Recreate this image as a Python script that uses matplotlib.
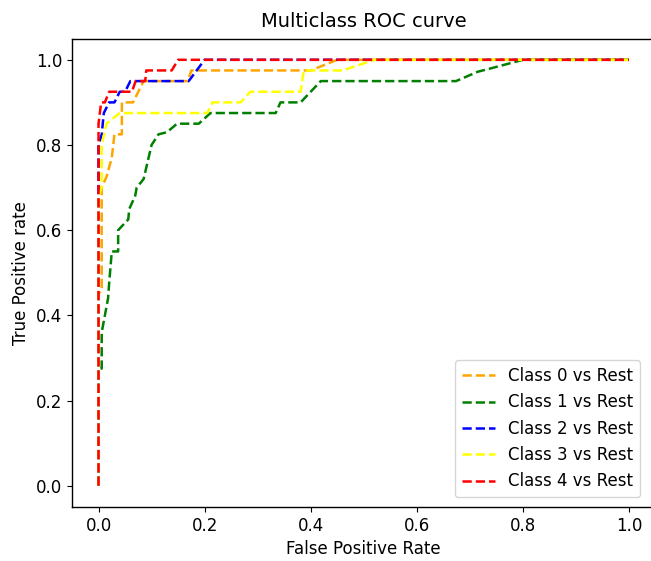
import matplotlib
matplotlib.use("Agg")
import matplotlib.pyplot as plt

# ROC curves (fpr, tpr)
fpr_0 = [0.0, 0.0, 0.006, 0.006, 0.015, 0.025, 0.03, 0.044, 0.044, 0.065, 0.085, 0.168, 0.175, 0.39, 0.40, 0.45, 1.0]
tpr_0 = [0.0, 0.45, 0.46, 0.70, 0.725, 0.77, 0.825, 0.825, 0.9, 0.9, 0.95, 0.95, 0.975, 0.975, 0.975, 1.0, 1.0]

fpr_1 = [0.0, 0.0, 0.006, 0.006, 0.012, 0.018, 0.02, 0.025, 0.037, 0.037, 0.056, 0.058, 0.069, 0.072,
         0.085, 0.1, 0.113, 0.129, 0.148, 0.189, 0.211, 0.334, 0.343, 0.381, 0.419, 0.674, 0.715, 0.74, 0.8, 1.0]
tpr_1 = [0.0, 0.275, 0.275, 0.36, 0.4, 0.44, 0.475, 0.55, 0.55, 0.6, 0.625, 0.65, 0.68, 0.7,
         0.72, 0.8, 0.825, 0.83, 0.85, 0.85, 0.875, 0.875, 0.9, 0.9, 0.95, 0.95, 0.972, 0.98, 1.0, 1.0]

fpr_2 = [0.0, 0.0, 0.006, 0.01, 0.02, 0.03, 0.04, 0.05, 0.06, 0.17, 0.2, 1.0]
tpr_2 = [0.0, 0.8, 0.825, 0.875, 0.9, 0.9, 0.925, 0.925, 0.95, 0.95, 1.0, 1.0]

fpr_3 = [0.0, 0.0, 0.006, 0.006, 0.015, 0.04, 0.205, 0.215, 0.268, 0.286, 0.381, 0.387, 0.46, 0.52, 1.0]
tpr_3 = [0.0, 0.68, 0.70, 0.8, 0.85, 0.875, 0.875, 0.9, 0.9, 0.925, 0.925, 0.975, 0.975, 1.0, 1.0]

fpr_4 = [0.0, 0.0, 0.005, 0.012, 0.02, 0.063, 0.07, 0.088, 0.09, 0.138, 0.15, 1.0]
tpr_4 = [0.0, 0.85, 0.9, 0.9, 0.925, 0.925, 0.95, 0.95, 0.975, 0.975, 1.0, 1.0]

curves = [(fpr_0, tpr_0), (fpr_1, tpr_1), (fpr_2, tpr_2), (fpr_3, tpr_3), (fpr_4, tpr_4)]
colors = ['orange', 'green', 'blue', 'yellow', 'red']
labels = ['Class 0 vs Rest', 'Class 1 vs Rest', 'Class 2 vs Rest', 'Class 3 vs Rest', 'Class 4 vs Rest']

plt.rcParams['font.size'] = 12
plt.rcParams['axes.titlesize'] = 14
plt.rcParams['lines.linewidth'] = 1.8
plt.rcParams['axes.linewidth'] = 1.0

fig = plt.figure(figsize=(6.51, 5.61), dpi=100)
ax = fig.add_axes([72 / 651, 1 - 507 / 561, 583.5 / 651, 468.5 / 561])

for (fpr, tpr), c, lab in zip(curves, colors, labels):
    ax.plot(fpr, tpr, linestyle='--', color=c, label=lab)

ax.set_title('Multiclass ROC curve', pad=8)
ax.set_xlabel('False Positive Rate')
ax.set_ylabel('True Positive rate')
ax.legend(loc='lower right', bbox_to_anchor=(640 / 651, 1 - 497 / 561),
          bbox_transform=fig.transFigure, borderaxespad=0)

fig.savefig('out.png', dpi=100)
